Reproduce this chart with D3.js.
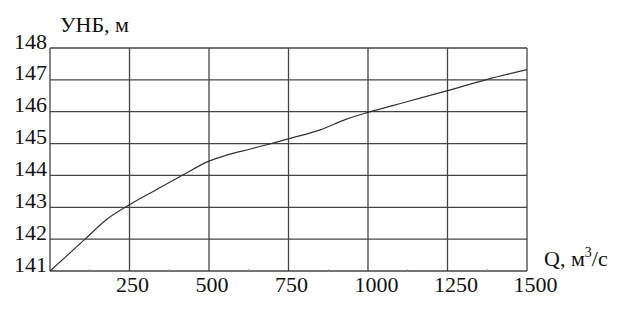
<!DOCTYPE html>
<html>
<head>
<meta charset="utf-8">
<script src="https://cdn.jsdelivr.net/npm/d3@7"></script>
<style>
  body { margin: 0; background: #fff; }
  text { font-family: "Liberation Serif", "Times New Roman", serif; fill: #111; }
</style>
</head>
<body>
<svg id="chart" width="624" height="311"></svg>
<script>
// discharge Q, m3/s and tailwater level, m
const flow = [0, 50, 110, 180, 250, 330, 415, 500, 550, 630, 710, 750, 850, 930, 1000, 1125, 1250, 1370, 1500]
const level = [141, 141.45, 142.0, 142.63, 143.08, 143.53, 144.0, 144.45, 144.62, 144.83, 145.04, 145.15, 145.43, 145.76, 145.98, 146.32, 146.66, 147.0, 147.32]
const xTicks = [250, 500, 750, 1000, 1250, 1500]
const yTicks = [141, 142, 143, 144, 145, 146, 147, 148]
const minorTicks = [125, 375, 625, 875, 1125, 1375]

const plotLeft = 50, plotRight = 527, plotTop = 48, plotBottom = 271
const svg = d3.select('#chart')

const x = d3.scaleLinear().domain([0, 1500]).range([plotLeft, plotRight])
const y = d3.scaleLinear().domain([141, 148]).range([plotBottom, plotTop])

// grid
const grid = svg.append('g').attr('stroke', '#444').attr('stroke-width', 1.3)
grid.selectAll('line.v')
  .data([0].concat(xTicks))
  .join('line')
  .attr('class', 'v')
  .attr('x1', d => x(d)).attr('x2', d => x(d))
  .attr('y1', plotTop).attr('y2', plotBottom)
grid.selectAll('line.h')
  .data(yTicks)
  .join('line')
  .attr('class', 'h')
  .attr('x1', plotLeft).attr('x2', plotRight)
  .attr('y1', d => y(d)).attr('y2', d => y(d))

svg.append('g')
  .attr('stroke', '#999').attr('stroke-width', 1)
  .selectAll('line')
  .data(minorTicks)
  .join('line')
  .attr('x1', d => x(d)).attr('x2', d => x(d))
  .attr('y1', plotBottom - 2).attr('y2', plotBottom)

// axis labels
const xAxis = d3.axisBottom(x).tickValues(xTicks).tickFormat(d3.format('d')).tickSize(0).tickPadding(0)
const gx = svg.append('g').attr('transform', `translate(0,${plotBottom})`).call(xAxis)
gx.select('.domain').remove()
gx.selectAll('text')
  .attr('text-anchor', 'start')
  .attr('dy', null)
  .attr('x', -14)
  .attr('y', 21)
  .style('font-size', '22px')
  .style('font-family', '"Liberation Serif", serif')
  .attr('fill', '#111')

const yAxis = d3.axisLeft(y).tickValues(yTicks).tickFormat(d3.format('d')).tickSize(0).tickPadding(0)
const gy = svg.append('g').attr('transform', `translate(${plotLeft - 3},0)`).call(yAxis)
gy.select('.domain').remove()
gy.selectAll('text')
  .attr('dy', null)
  .attr('y', 0)
  .attr('x', 0)
  .style('font-size', '22px')
  .style('font-family', '"Liberation Serif", serif')
  .attr('fill', '#111')

// curve
const line = d3.line()
  .x((d, i) => x(flow[i]))
  .y(d => y(d))
  .curve(d3.curveMonotoneX)

svg.append('path')
  .attr('fill', 'none')
  .attr('stroke', '#333')
  .attr('stroke-width', 1.2)
  .attr('d', line(level))

// titles
svg.append('text')
  .attr('x', 60).attr('y', 32)
  .style('font-size', '22px')
  .text('УНБ, м')

const qt = svg.append('text')
  .attr('x', 544).attr('y', 266)
  .style('font-size', '22px')
qt.append('tspan').text('Q, м')
qt.append('tspan').attr('dy', -9).style('font-size', '14px').text('3')
qt.append('tspan').attr('dy', 9).text('/с')
</script>
</body>
</html>
